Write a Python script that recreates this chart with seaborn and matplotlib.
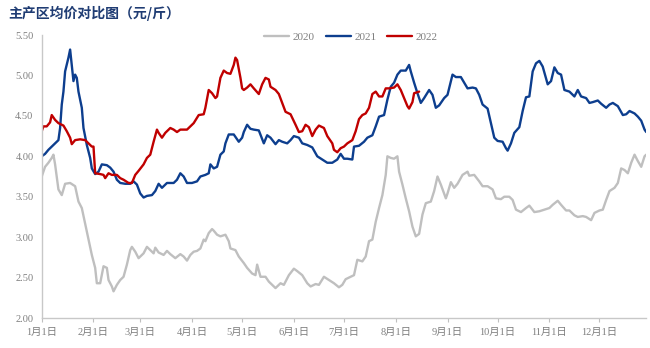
import matplotlib
matplotlib.use("Agg")
import matplotlib.pyplot as plt
import seaborn as sns
import pandas as pd

# ---- data (day-of-year, price 元/斤) ----
days_2020 = [0, 2, 4, 6, 7, 8, 10, 12, 14, 17, 20, 22, 24, 27, 30, 32, 33, 35, 37, 39,
             40, 42, 43, 45, 47, 49, 51, 53, 54, 56, 58,
             61, 63, 65, 67, 68, 70, 73, 75, 77, 80, 83, 85, 87, 89, 91, 93, 95, 97, 98, 100,
             102, 103, 105, 107, 110, 112, 113, 116, 118,
             121, 123, 126, 128, 129, 131, 134, 136, 138, 140, 143, 145, 148, 151, 153, 156,
             159, 161, 164, 166, 169, 172, 175, 178, 180, 182, 185, 187,
             189, 192, 194, 196, 198, 200, 202, 204, 206, 207, 209, 211, 213, 214, 216, 218,
             220, 222, 224, 226, 228, 230, 233, 235, 237, 239, 242, 243, 245, 247, 249,
             252, 255, 256, 259, 262, 264, 267, 270, 272, 275, 277, 280, 282, 284, 287, 290,
             292, 295, 298, 301, 304, 306, 309, 311,
             314, 316, 319, 321, 324, 326, 329, 331, 334, 336, 338, 340, 343, 345, 347, 349,
             351, 353, 355, 357, 359, 361, 362]
price_2020 = [3.75, 3.87, 3.92, 3.98, 4.02, 3.90, 3.59, 3.52, 3.66, 3.67, 3.63, 3.44, 3.36, 3.07,
              2.78, 2.62, 2.43, 2.43, 2.64, 2.62, 2.47, 2.39, 2.33, 2.41, 2.47, 2.51, 2.66, 2.84,
              2.88, 2.82, 2.74,
              2.80, 2.88, 2.84, 2.80, 2.87, 2.81, 2.78, 2.83, 2.79, 2.74, 2.79, 2.76, 2.71, 2.78,
              2.82, 2.83, 2.86, 2.97, 2.95, 3.05, 3.10, 3.08, 3.03, 3.01, 3.03, 2.95, 2.86, 2.84,
              2.76,
              2.68, 2.62, 2.55, 2.53, 2.66, 2.51, 2.51, 2.45, 2.41, 2.37, 2.43, 2.41, 2.53, 2.61,
              2.58, 2.53, 2.43, 2.39, 2.42, 2.41, 2.51, 2.47, 2.43, 2.38, 2.41, 2.48, 2.51, 2.53,
              2.72, 2.70, 2.76, 2.95, 2.97, 3.19, 3.36, 3.52, 3.77, 4.00, 3.98, 3.97, 4.00, 3.81,
              3.65, 3.48, 3.32, 3.13, 3.01, 3.04, 3.28, 3.42, 3.44, 3.57, 3.75, 3.65, 3.48, 3.54,
              3.68, 3.61, 3.66,
              3.77, 3.81, 3.76, 3.77, 3.69, 3.63, 3.63, 3.59, 3.48, 3.47, 3.50, 3.50, 3.46, 3.34,
              3.31, 3.36, 3.39, 3.31, 3.32, 3.34, 3.36, 3.40, 3.45, 3.40,
              3.33, 3.33, 3.27, 3.25, 3.26, 3.25, 3.21, 3.30, 3.33, 3.34, 3.46, 3.57, 3.61, 3.67,
              3.85, 3.83, 3.79, 3.92, 4.02, 3.94, 3.87, 4.00, 4.02]

days_2021 = [0, 2, 4, 6, 8, 10, 11, 12, 13, 14, 16, 17, 18, 19, 20, 21, 22, 24, 25, 27,
             29, 30, 32, 34, 36, 39, 41, 43, 45, 47, 50, 53, 55, 57, 59,
             61, 63, 66, 68, 70, 72, 75, 79, 81, 83, 85, 87, 90, 93, 95, 98, 100, 101, 103, 105,
             107, 109, 110, 112, 115, 118, 120,
             121, 123, 125, 127, 130, 133, 135, 137, 140, 142, 144, 147, 149, 151, 154, 156,
             159, 162, 165, 168, 171, 174, 177, 179, 181,
             183, 186, 187, 190, 193, 195, 198, 200, 202, 205, 207, 209, 211, 213, 215, 218,
             220, 221, 223, 225, 227, 229, 232, 234, 236, 238, 241, 243,
             246, 248, 251, 253, 255, 258, 260, 262, 264, 267, 269, 271, 273, 276, 278, 279,
             281, 283, 286, 288, 290, 292, 294, 296, 298, 300,
             303, 305, 307, 309, 311, 313, 316, 319, 321, 323, 326, 328, 330, 333, 335, 338,
             340, 342, 345, 348, 350, 352, 355, 357, 359, 361, 362]
price_2021 = [4.00, 4.03, 4.08, 4.12, 4.16, 4.20, 4.35, 4.64, 4.80, 5.05, 5.22, 5.32, 5.13, 4.93,
              5.01, 4.97, 4.80, 4.60, 4.35, 4.14, 3.98, 3.85, 3.78, 3.81, 3.90, 3.89, 3.86, 3.81,
              3.71, 3.67, 3.66, 3.66, 3.69, 3.65, 3.54,
              3.49, 3.51, 3.52, 3.57, 3.66, 3.61, 3.67, 3.67, 3.71, 3.79, 3.75, 3.67, 3.67, 3.69,
              3.75, 3.77, 3.79, 3.90, 3.85, 3.87, 4.02, 4.06, 4.16, 4.27, 4.27, 4.18, 4.23,
              4.30, 4.39, 4.34, 4.33, 4.32, 4.16, 4.26, 4.23, 4.15, 4.20, 4.18, 4.16, 4.20, 4.25,
              4.23, 4.16, 4.14, 4.11, 4.00, 3.96, 3.92, 3.92, 3.96, 4.03, 3.97,
              3.97, 3.96, 4.12, 4.13, 4.18, 4.23, 4.26, 4.37, 4.49, 4.51, 4.70, 4.86, 4.91, 5.01,
              5.06, 5.06, 5.13, 5.05, 4.91, 4.78, 4.66, 4.72, 4.82, 4.76, 4.60, 4.63, 4.72, 4.76,
              5.01, 4.98, 4.98, 4.91, 4.84, 4.85, 4.84, 4.76, 4.64, 4.59, 4.41, 4.23, 4.19, 4.18,
              4.10, 4.07, 4.16, 4.29, 4.36, 4.56, 4.73, 4.74, 5.05, 5.15, 5.18, 5.11,
              4.89, 4.93, 5.10, 5.03, 5.01, 4.82, 4.80, 4.74, 4.82, 4.74, 4.72, 4.66, 4.67, 4.69,
              4.65, 4.60, 4.64, 4.66, 4.62, 4.51, 4.52, 4.56, 4.53, 4.49, 4.44, 4.33, 4.30]

days_2022 = [0, 1, 3, 5, 6, 8, 10, 13, 15, 17, 18, 20, 23, 26, 28, 30, 31, 32, 35, 37,
             38, 40, 42, 45, 47, 49, 52, 54, 56, 58,
             61, 63, 65, 67, 69, 70, 72, 74, 77, 79, 81, 83, 87, 89, 91, 94, 97, 98, 100, 102,
             104, 105, 107, 109, 111, 113, 115, 116, 117, 119, 120,
             121, 123, 125, 127, 130, 132, 134, 136, 137, 140, 142, 144, 146, 149, 152, 154,
             156, 158, 160, 162, 164, 166, 169, 171, 174, 175, 177, 179, 181,
             183, 186, 188, 190, 192, 194, 196, 198, 200, 202, 204, 206, 208, 211, 213, 215,
             217, 219, 220, 222, 223, 226]
price_2022 = [4.31, 4.37, 4.37, 4.42, 4.51, 4.45, 4.41, 4.38, 4.31, 4.23, 4.15, 4.20, 4.21, 4.20,
              4.16, 4.12, 4.12, 3.79, 3.78, 3.77, 3.73, 3.79, 3.77, 3.77, 3.73, 3.71, 3.67, 3.67,
              3.77, 3.82,
              3.90, 3.98, 4.02, 4.18, 4.33, 4.29, 4.23, 4.29, 4.35, 4.33, 4.30, 4.33, 4.33, 4.37,
              4.41, 4.51, 4.52, 4.60, 4.82, 4.78, 4.72, 4.74, 4.97, 5.06, 5.03, 5.02, 5.13, 5.22,
              5.19, 4.97, 4.84,
              4.82, 4.85, 4.89, 4.84, 4.77, 4.89, 4.97, 4.95, 4.86, 4.82, 4.77, 4.66, 4.55, 4.52,
              4.39, 4.30, 4.31, 4.39, 4.36, 4.25, 4.33, 4.38, 4.35, 4.25, 4.16, 4.08, 4.05, 4.10,
              4.12,
              4.16, 4.20, 4.31, 4.46, 4.51, 4.53, 4.60, 4.77, 4.80, 4.74, 4.74, 4.84, 4.84, 4.85,
              4.89, 4.82, 4.72, 4.62, 4.59, 4.67, 4.78, 4.80]

years = ["2020", "2021", "2022"]
month_days = [0, 31, 59, 90, 120, 151, 181, 212, 243, 273, 304, 334]
month_labels = ["1月1日", "2月1日", "3月1日", "4月1日", "5月1日", "6月1日",
                "7月1日", "8月1日", "9月1日", "10月1日", "11月1日", "12月1日"]
y_ticks = [2.00, 2.50, 3.00, 3.50, 4.00, 4.50, 5.00, 5.50]
title = "主产区均价对比图（元/斤）"

df = pd.concat([
    pd.DataFrame({"day": days_2020, "price": price_2020, "year": "2020"}),
    pd.DataFrame({"day": days_2021, "price": price_2021, "year": "2021"}),
    pd.DataFrame({"day": days_2022, "price": price_2022, "year": "2022"}),
], ignore_index=True)

sns.set_theme(style="white")
plt.rcParams["font.family"] = ["Liberation Serif", "Noto Sans CJK SC"]

fig = plt.figure(figsize=(6.5, 3.48), dpi=100)
ax = fig.add_axes([0.0642, 0.0862, 0.930, 0.8132])

palette = {"2020": "#BFBFBF", "2021": "#0D3E8E", "2022": "#C00000"}
sns.lineplot(data=df, x="day", y="price", hue="year", hue_order=years,
             palette=palette, linewidth=1.7, estimator=None, sort=False, ax=ax)

ax.set_xlim(0, 362)
ax.set_ylim(2.0, 5.5)
ax.set_yticks(y_ticks)
ax.set_yticklabels([f"{v:.2f}" for v in y_ticks], color="#7F7F7F", fontsize=7.5)
ax.set_xticks(month_days)
ax.set_xticklabels(month_labels, color="#7F7F7F", fontsize=7.5)
ax.tick_params(axis="x", which="major", length=3, width=0.8, color="#BFBFBF",
               direction="out", pad=4, bottom=True)
ax.tick_params(axis="y", length=0, pad=6)
ax.set_xlabel("")
ax.set_ylabel("")
for s in ["top", "right"]:
    ax.spines[s].set_visible(False)
for s in ["left", "bottom"]:
    ax.spines[s].set_color("#C8C8C8")
    ax.spines[s].set_linewidth(1.0)
ax.grid(False)

handles, labels = ax.get_legend_handles_labels()
ax.legend_.remove()
leg = fig.legend(handles, labels, loc="center", bbox_to_anchor=(0.54, 0.894), ncol=3,
                 frameon=False, fontsize=8, handlelength=2.25, columnspacing=1.0,
                 handletextpad=0.3)
for t in leg.get_texts():
    t.set_color("#7F7F7F")

fig.text(0.012, 0.962, title, fontsize=10, fontweight="bold", color="#1F3C73",
         family=["Noto Sans CJK SC"], ha="left", va="center")

fig.savefig("out.png", dpi=100)
